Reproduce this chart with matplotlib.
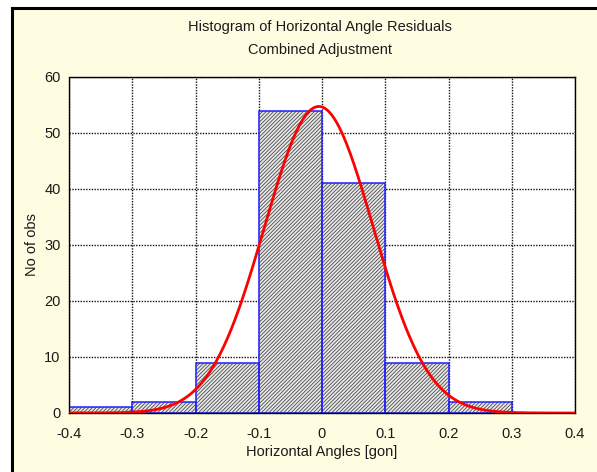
import numpy as np
import matplotlib.pyplot as plt
from matplotlib.patches import Rectangle
from matplotlib.lines import Line2D

plt.rcParams['font.family'] = ['Liberation Sans', 'DejaVu Sans']
plt.rcParams['hatch.linewidth'] = 0.6

# Residual histogram: bin edges and observation counts
bin_edges = [-0.4, -0.3, -0.2, -0.1, 0.0, 0.1, 0.2, 0.3, 0.4]
counts = [1, 2, 9, 54, 41, 9, 2, 0]
x_ticks = [-0.4, -0.3, -0.2, -0.1, 0, 0.1, 0.2, 0.3, 0.4]
x_tick_labels = ['-0.4', '-0.3', '-0.2', '-0.1', '0', '0.1', '0.2', '0.3', '0.4']
y_ticks = [0, 10, 20, 30, 40, 50, 60]

# Fitted normal curve parameters
fit_mean = -0.005
fit_sigma = 0.086

cream = '#FFFDE1'
fs = 10.5
txt = '#1a1a1a'

fig = plt.figure(figsize=(5.97, 4.72), dpi=100, facecolor='white')
W, H = 597.0, 472.0

# cream panel with black edge on top and left
fig.patches.append(Rectangle((12 / W, 0), 1 - 12 / W, 1 - 8 / H, transform=fig.transFigure,
                             facecolor=cream, edgecolor='none', zorder=-5))
fig.lines.append(Line2D([12 / W, 1], [1 - 8 / H, 1 - 8 / H], transform=fig.transFigure,
                        color='black', lw=2.2, zorder=-4))
fig.lines.append(Line2D([12 / W, 12 / W], [0, 1 - 8 / H], transform=fig.transFigure,
                        color='black', lw=2.2, zorder=-4))

ax = fig.add_axes([69 / W, 1 - 413 / H, (575 - 69) / W, (413 - 77) / H])
ax.set_facecolor('white')

lefts = np.array(bin_edges[:-1])
widths = np.diff(bin_edges)
# hatched fill first, then the blue outlines on top
ax.bar(lefts, counts, width=widths, align='edge', facecolor='#e8e8e8',
       edgecolor='#4a4a4a', linewidth=0, hatch='/////////', zorder=2)
ax.bar(lefts, counts, width=widths, align='edge', facecolor='none',
       edgecolor='#2020ff', linewidth=1.1, zorder=2.5)

n_obs = sum(counts)
xs = np.linspace(-0.4, 0.4, 400)
curve = n_obs * 0.1 / (fit_sigma * np.sqrt(2 * np.pi)) * np.exp(-(xs - fit_mean) ** 2 / (2 * fit_sigma ** 2))
ax.plot(xs, curve, color='#ff0000', lw=2.0, zorder=3)

ax.set_xlim(-0.4, 0.4)
ax.set_ylim(0, 60)
ax.set_xticks(x_ticks)
ax.set_xticklabels(x_tick_labels)
ax.set_yticks(y_ticks)
ax.tick_params(length=0, labelsize=fs, colors=txt)
ax.tick_params(axis='x', pad=10)
ax.tick_params(axis='y', pad=6)
ax.grid(True, color='#111111', linestyle=(0, (1, 1)), lw=1.0, zorder=1)
ax.set_axisbelow(True)

for side in ['left', 'top']:
    ax.spines[side].set_linestyle((0, (1, 1)))
    ax.spines[side].set_linewidth(1.0)
ax.spines['right'].set_linewidth(1.0)
ax.spines['bottom'].set_linewidth(1.0)

ax.set_xlabel('Horizontal Angles [gon]', fontsize=fs, labelpad=3, color=txt)
ax.set_ylabel('No of obs', fontsize=fs, labelpad=4, color=txt)

fig.text(320 / W, 1 - 27 / H, 'Histogram of Horizontal Angle Residuals', fontsize=fs,
         ha='center', va='center', color=txt)
fig.text(320 / W, 1 - 50 / H, 'Combined Adjustment', fontsize=fs, ha='center', va='center',
         color=txt)

fig.savefig('out.png', dpi=100, facecolor=fig.get_facecolor())
